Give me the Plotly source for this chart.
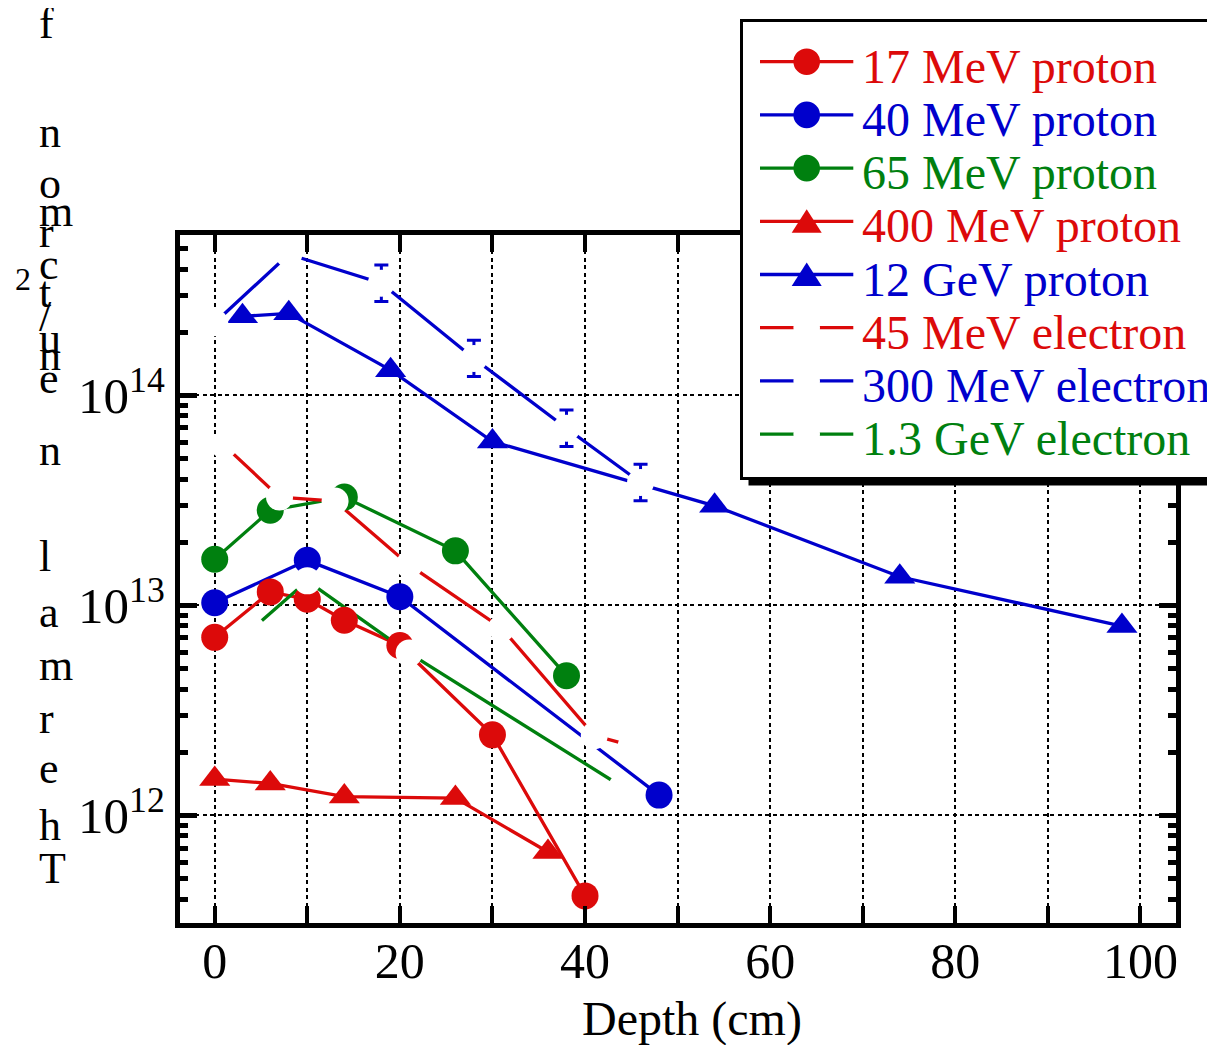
import plotly.graph_objects as go

# ---------------- data ----------------
RED = "#DC0A0A"
BLUE = "#0000CC"
GREEN = "#00800F"

x_p17 = [0, 6, 10, 14, 20, 30, 40]
y_p17 = [7.05e12, 1.16e13, 1.07e13, 8.5e12, 6.45e12, 2.42e12, 4.14e11]

x_p40 = [0, 10, 20, 48]
y_p40 = [1.03e13, 1.64e13, 1.10e13, 1.25e12]

x_p65 = [0, 6, 14, 26, 38]
y_p65 = [1.66e13, 2.84e13, 3.28e13, 1.82e13, 4.63e12]

x_p400 = [0, 6, 14, 26, 36]
y_p400 = [1.49e12, 1.42e12, 1.23e12, 1.21e12, 6.70e11]

x_p12g = [3, 8, 19, 30, 54, 74, 98]
y_p12g = [2.38e14, 2.46e14, 1.32e14, 6.03e13, 2.98e13, 1.37e13, 7.98e12]

x_e45 = [1, 7, 13, 21, 31, 41, 45]
y_e45 = [5.8e13, 3.28e13, 3.14e13, 1.56e13, 7.8e12, 2.4e12, 2.15e12]

x_e300 = [0, 8, 18, 28, 38, 46]
y_e300 = [2.22e14, 4.70e14, 3.42e14, 1.50e14, 6.98e13, 3.85e13]
err_e300_plus = [0, 0, 0.76e14, 0.33e14, 1.55e13, 0.85e13]
err_e300_minus = [0, 0, 0.62e14, 0.27e14, 1.27e13, 0.70e13]

x_e13g = [4, 10, 21, 44]
y_e13g = [7.69e12, 1.31e13, 5.93e12, 1.37e12]

x_ticks = [0, 10, 20, 30, 40, 50, 60, 70, 80, 90, 100]
x_ticktext = ["0", "", "20", "", "40", "", "60", "", "80", "", "100"]

y_ticks = [1e12, 1e13, 1e14]
y_ticktext = ["10<sup>12</sup>", "10<sup>13</sup>", "10<sup>14</sup>"]

series = [
    ("17 MeV proton", x_p17, y_p17, RED, "circle"),
    ("40 MeV proton", x_p40, y_p40, BLUE, "circle"),
    ("65 MeV proton", x_p65, y_p65, GREEN, "circle"),
    ("400 MeV proton", x_p400, y_p400, RED, "triangle-up"),
    ("12 GeV proton", x_p12g, y_p12g, BLUE, "triangle-up"),
    ("45 MeV electron", x_e45, y_e45, RED, "gap"),
    ("300 MeV electron", x_e300, y_e300, BLUE, "gap"),
    ("1.3 GeV electron", x_e13g, y_e13g, GREEN, "gap"),
]

# ---------------- geometry helpers (layout only) ----------------
# the page adds an 8px body margin, so the figure is drawn 8px smaller/offset
OFF = 8
FW, FH = 1215 - OFF, 1045 - OFF
PL, PR, PT, PB = 180, 1176, 235, 923          # plot area in page pixels
L, T = PL - OFF, PT - OFF
R, B = FW - (PR - OFF), FH - (PB - OFF)
W = FW - L - R
H = FH - T - B
FONT = "Liberation Serif"


def pxx(v):
    return (v - OFF - L) / W


def pxy(v):
    return (T + H - (v - OFF)) / H


fig = go.Figure()

# lines first (all series)
for name, xs, ys, col, kind in series:
    kw = {}
    if name == "300 MeV electron":
        kw["error_y"] = dict(type="data", symmetric=False, array=err_e300_plus,
                             arrayminus=err_e300_minus, color=BLUE, thickness=3,
                             width=7, visible=True)
    fig.add_trace(go.Scatter(x=xs, y=ys, mode="lines", name=name,
                             line=dict(color=col, width=3.3), showlegend=False,
                             hoverinfo="skip", **kw))

# proton markers
for name, xs, ys, col, kind in series:
    if kind == "gap":
        continue
    fig.add_trace(go.Scatter(x=xs, y=ys, mode="markers", name=name,
                             marker=dict(symbol=kind, color=col, size=27,
                                         line=dict(width=0)),
                             showlegend=False))

# electron markers: white discs that interrupt the lines
for name, xs, ys, col, kind in series:
    if kind != "gap":
        continue
    fig.add_trace(go.Scatter(x=xs, y=ys, mode="markers", name=name,
                             marker=dict(symbol="circle", color="white", size=27,
                                         line=dict(width=0)),
                             showlegend=False))

# ---------------- axes ----------------
minor_vals = [m * 10 ** e for e in (11, 12, 13, 14) for m in range(2, 10)]

fig.update_xaxes(range=[-3.75, 103.84], tickmode="array", tickvals=x_ticks,
                 ticktext=x_ticktext, ticks="inside", ticklen=17, tickwidth=4,
                 tickcolor="black", showline=True, linewidth=5, linecolor="black",
                 mirror="ticks", showgrid=True, gridcolor="black", gridwidth=1.6,
                 griddash="4px,3.5px", zeroline=False, automargin=False,
                 ticklabelstandoff=-10,
                 tickfont=dict(family=FONT, size=50, color="black"))
fig.update_yaxes(type="log", range=[11.488, 14.764], tickmode="array",
                 tickvals=y_ticks, ticktext=y_ticktext,
                 ticks="inside", ticklen=17, tickwidth=5, tickcolor="black",
                 showline=True, linewidth=5, linecolor="black", mirror="ticks",
                 showgrid=True, gridcolor="black", gridwidth=1.6,
                 griddash="4px,3.5px", zeroline=False, automargin=False,
                 minor=dict(tickmode="array", tickvals=minor_vals, ticks="inside",
                            ticklen=8, tickwidth=4.5, tickcolor="black", showgrid=False),
                 tickfont=dict(family=FONT, size=51, color="black"))

# ---------------- legend (drawn manually) ----------------
shapes = []
annotations = []
shapes.append(dict(type="rect", xref="paper", yref="paper",
                   x0=pxx(748.5), x1=pxx(1228), y0=pxy(485.5), y1=pxy(27),
                   fillcolor="black", line=dict(width=0)))
shapes.append(dict(type="rect", xref="paper", yref="paper",
                   x0=pxx(741.5), x1=pxx(1213.5), y0=pxy(478.5), y1=pxy(20.5),
                   fillcolor="white", line=dict(color="black", width=3)))

ROW0, ROWSTEP = 61.7, 53.2
MX, MR = 806.7, 13.3
for i, (name, xs, ys, col, kind) in enumerate(series):
    yc = ROW0 + ROWSTEP * i
    shapes.append(dict(type="line", xref="paper", yref="paper",
                       x0=pxx(760), x1=pxx(853.3), y0=pxy(yc), y1=pxy(yc),
                       line=dict(color=col, width=3.3)))
    if kind == "circle":
        shapes.append(dict(type="circle", xref="paper", yref="paper",
                           x0=pxx(MX - MR), x1=pxx(MX + MR),
                           y0=pxy(yc + MR), y1=pxy(yc - MR),
                           fillcolor=col, line=dict(width=0)))
    elif kind == "triangle-up":
        path = "M %f,%f L %f,%f L %f,%f Z" % (
            pxx(MX), pxy(yc - 12), pxx(MX - 15), pxy(yc + 11.5),
            pxx(MX + 15), pxy(yc + 11.5))
        shapes.append(dict(type="path", xref="paper", yref="paper", path=path,
                           fillcolor=col, line=dict(width=0)))
    else:
        shapes.append(dict(type="circle", xref="paper", yref="paper",
                           x0=pxx(MX - MR), x1=pxx(MX + MR),
                           y0=pxy(yc + MR), y1=pxy(yc - MR),
                           fillcolor="white", line=dict(width=0)))
    annotations.append(dict(text=name, xref="paper", yref="paper",
                            x=pxx(860), y=pxy(yc + 4.5), xanchor="left",
                            yanchor="middle", showarrow=False,
                            font=dict(family=FONT, size=48, color=col)))

# ---------------- axis titles ----------------
annotations.append(dict(text="Depth (cm)", xref="paper", yref="paper",
                        x=pxx(692), y=pxy(1019), xanchor="center", yanchor="middle",
                        showarrow=False, font=dict(family=FONT, size=48, color="black")))

# y title: glyphs stacked vertically (as rendered in the original)
title_glyphs = [("f", 38), ("n", 147), ("o", 198), ("m", 226), ("r", 247), ("c", 279),
                ("t", 307), ("/", 331), ("u", 353), ("n", 370), ("e", 393), ("n", 465),
                ("l", 571), ("a", 627), ("m", 680), ("r", 733), ("e", 783), ("h", 840),
                ("T", 883)]
GS = 44
for ch, base in title_glyphs:
    annotations.append(dict(text=ch, xref="paper", yref="paper", x=pxx(37),
                            y=pxy(base - 0.3375 * GS), xanchor="left", yanchor="middle",
                            showarrow=False,
                            font=dict(family=FONT, size=GS, color="black")))
annotations.append(dict(text="2", xref="paper", yref="paper", x=pxx(13),
                        y=pxy(290 - 0.3375 * 32), xanchor="left", yanchor="middle",
                        showarrow=False, font=dict(family=FONT, size=32, color="black")))

fig.update_layout(width=FW, height=FH, margin=dict(l=L, r=R, t=T, b=B, pad=0),
                  plot_bgcolor="white", paper_bgcolor="white", showlegend=False,
                  font=dict(family=FONT, color="black"),
                  shapes=shapes, annotations=annotations)

fig.write_html("out.html")
